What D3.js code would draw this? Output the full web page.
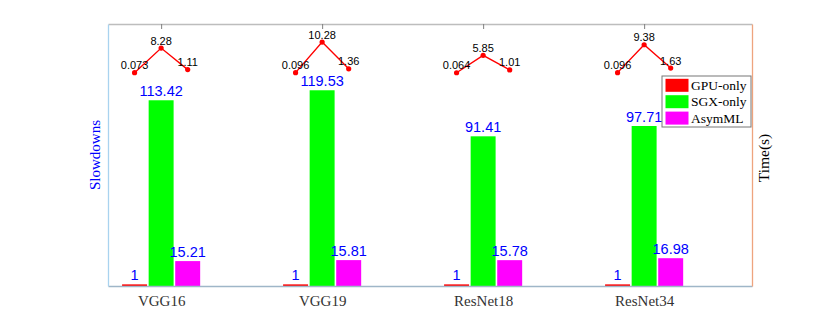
<!DOCTYPE html>
<html>
<head>
<meta charset="utf-8">
<script src="https://cdn.jsdelivr.net/npm/d3@7"></script>
<style>
  body { margin: 0; background: #fff; }
</style>
</head>
<body>
<svg id="chart" width="830" height="321"></svg>
<script>
const categories = ['VGG16', 'VGG19', 'ResNet18', 'ResNet34']
const series = ['GPU-only', 'SGX-only', 'AsymML']
const seriesColors = ['#ff0000', '#00ff00', '#ff00ff']

// slowdowns (left axis, bars)
const gpuSlow = [1, 1, 1, 1]
const sgxSlow = [113.42, 119.53, 91.41, 97.71]
const asymSlow = [15.21, 15.81, 15.78, 16.98]

// time in seconds (right axis, red line per group)
const gpuTime = [0.073, 0.096, 0.064, 0.096]
const sgxTime = [8.28, 10.28, 5.85, 9.38]
const asymTime = [1.11, 1.36, 1.01, 1.63]

const slowdowns = [gpuSlow, sgxSlow, asymSlow]
const times = [gpuTime, sgxTime, asymTime]

const margin = { left: 108, top: 24, right: 78, bottom: 35 }
const width = 830 - margin.left - margin.right
const height = 321 - margin.top - margin.bottom

const svg = d3.select('#chart')
const g = svg.append('g').attr('transform', 'translate(' + margin.left + ',' + margin.top + ')')

const x = d3.scaleLinear().domain([0.67, 4.67]).range([0, width])
const y = d3.scaleLinear().domain([0, 160]).range([height, 0])
const yTime = d3.scaleLinear().domain([-71, 16.3]).range([height, 0])

const barOffset = 0.165
const barWidth = x(0.155) - x(0)

// bars
series.forEach((s, j) => {
    g.append('g').selectAll('rect')
        .data(slowdowns[j])
        .join('rect')
        .attr('x', (d, i) => x(i + 1 + (j - 1) * barOffset) - barWidth / 2)
        .attr('y', d => y(d))
        .attr('width', barWidth)
        .attr('height', d => height - y(d))
        .attr('fill', seriesColors[j])

    g.append('g').selectAll('text')
        .data(slowdowns[j])
        .join('text')
        .attr('x', (d, i) => x(i + 1 + (j - 1) * barOffset))
        .attr('y', d => y(d) - 4)
        .attr('text-anchor', 'middle')
        .attr('font-family', 'Liberation Sans, Arial, sans-serif')
        .attr('font-size', 14.5)
        .attr('fill', '#0000ff')
        .text(d => d)
})

// axes frame
g.append('g')
    .attr('class', 'x axis-top')
    .call(d3.axisTop(x).tickValues([1, 2, 3, 4]).tickSizeInner(-5).tickSizeOuter(0).tickFormat(''))
    .call(a => a.select('.domain').attr('stroke', '#bdbdbd').attr('stroke-width', 1.5))
    .call(a => a.selectAll('.tick line').attr('stroke', '#808080'))

const xAxis = g.append('g')
    .attr('class', 'x axis')
    .attr('transform', 'translate(0,' + height + ')')
    .call(d3.axisBottom(x).tickValues([1, 2, 3, 4]).tickSize(0).tickPadding(9).tickFormat(d => categories[d - 1]))
xAxis.select('.domain').attr('stroke', '#9fb6c8').attr('stroke-width', 1.5)
xAxis.selectAll('.tick text')
    .attr('font-family', 'Liberation Serif, Times New Roman, serif')
    .attr('font-size', 15)
    .attr('fill', '#333')

g.append('g')
    .call(d3.axisLeft(y).tickValues([]).tickSizeOuter(0))
    .call(a => a.select('.domain').attr('stroke', '#a9d3ef').attr('stroke-width', 1.3))

g.append('g')
    .attr('transform', 'translate(' + width + ',0)')
    .call(d3.axisRight(yTime).tickValues([]).tickSizeOuter(0))
    .call(a => a.select('.domain').attr('stroke', '#eea47e').attr('stroke-width', 1.3))

// time lines
const line = d3.line()
    .x(d => x(d.i + 1 + (d.j - 1) * barOffset))
    .y(d => yTime(d.v))

categories.forEach((c, i) => {
    const pts = times.map((t, j) => ({ i: i, j: j, v: t[i] }))
    const lg = g.append('g').attr('class', 'time-line')
    lg.append('path')
        .attr('d', line(pts))
        .attr('fill', 'none')
        .attr('stroke', '#ff0000')
        .attr('stroke-width', 1.4)
    lg.selectAll('circle')
        .data(pts)
        .join('circle')
        .attr('cx', d => line.x()(d))
        .attr('cy', d => yTime(d.v))
        .attr('r', 2.6)
        .attr('fill', '#ff0000')
    lg.selectAll('text')
        .data(pts)
        .join('text')
        .attr('x', d => line.x()(d))
        .attr('y', d => yTime(d.v) - 3.5)
        .attr('text-anchor', 'middle')
        .attr('font-family', 'Liberation Sans, Arial, sans-serif')
        .attr('font-size', 11)
        .attr('fill', '#000')
        .text(d => d.v)
})

// axis titles
svg.append('text')
    .text('Slowdowns')
    .attr('transform', 'translate(100,155) rotate(-90)')
    .attr('text-anchor', 'middle')
    .attr('font-family', 'Liberation Serif, Times New Roman, serif')
    .attr('font-size', 15)
    .attr('fill', '#0000ff')

svg.append('text')
    .text('Time(s)')
    .attr('transform', 'translate(769,158) rotate(-90)')
    .attr('text-anchor', 'middle')
    .attr('font-family', 'Liberation Serif, Times New Roman, serif')
    .attr('font-size', 15.5)
    .attr('fill', '#000')

// legend
const legend = svg.append('g').attr('transform', 'translate(662,76)')
legend.append('rect')
    .attr('width', 89).attr('height', 51)
    .attr('fill', '#fff').attr('stroke', '#777').attr('stroke-width', 1)
series.forEach((s, j) => {
    const row = legend.append('g').attr('transform', 'translate(0,' + (9.3 + j * 16.4) + ')')
    row.append('rect')
        .attr('x', 3.5).attr('y', -6.5)
        .attr('width', 23).attr('height', 13)
        .attr('fill', seriesColors[j])
    row.append('text')
        .attr('x', 29)
        .attr('y', 4.5)
        .attr('font-family', 'Liberation Serif, Times New Roman, serif')
        .attr('font-size', 13.5)
        .attr('fill', '#000')
        .text(s)
})
</script>
</body>
</html>
